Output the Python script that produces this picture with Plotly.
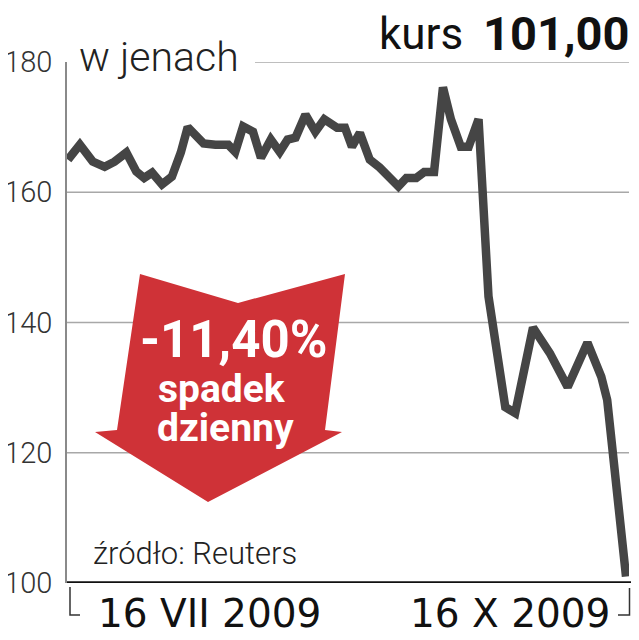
import plotly.graph_objects as go

# ---- data ----
# day offset from 16 VII 2009
days = [0.0, 1.96, 4.08, 6.04, 7.67, 9.62, 11.26, 12.56, 13.87, 15.50, 17.13, 18.60,
        19.74, 21.04, 22.35, 24.30, 26.43, 27.57, 28.87, 30.50, 31.81, 33.44, 34.91,
        36.21, 37.52, 39.15, 40.78, 42.25, 44.37, 45.67, 46.82, 48.12, 49.75, 51.38,
        52.85, 54.48, 55.79, 57.42, 58.72, 60.35, 61.82, 63.13, 64.76, 66.06, 67.69,
        69.33, 72.10, 73.73, 76.67, 79.44, 82.38, 85.64, 87.92, 88.90, 92.0]
prices = [165.0, 167.3, 164.7, 163.9, 164.7, 166.1, 163.2, 162.2, 163.0, 161.2, 162.4,
          166.1, 170.0, 168.8, 167.5, 167.3, 167.3, 166.2, 170.1, 169.3, 165.3, 168.1,
          166.2, 168.1, 168.4, 171.9, 169.3, 171.2, 169.9, 169.9, 167.0, 169.1, 165.0,
          163.8, 162.2, 160.9, 162.2, 162.2, 163.1, 163.1, 176.1, 171.2, 167.0, 167.0,
          171.2, 144.0, 127.0, 126.1, 139.2, 135.3, 130.1, 136.9, 131.7, 128.1, 101.0]
y_ticks = [100, 120, 140, 160, 180]
grid_vals = [120, 140, 160, 180]
x_labels = ["16 VII 2009", "16 X 2009"]
last_price = "101,00"
change = "-11,40%"

# the page body has an 8px margin; keep the figure inside the visible area
OFF = 8
W, H = 631 - OFF, 640 - 2 * OFF
X0, X1, Y0, Y1 = 67, 629, 62, 583  # plot area in page pixels
L, T = X0 - OFF, Y0 - OFF
R, B = (OFF + W) - X1, (OFF + H) - Y1
PW, PH = X1 - X0, Y1 - Y0


def px(x):
    return (x - X0) / PW


def py(y):
    return (Y1 - y) / PH


fig = go.Figure()
fig.add_trace(go.Scatter(x=days, y=prices, mode="lines",
                         line=dict(color="#454545", width=8.5),
                         hoverinfo="skip", showlegend=False))

shapes = []
# gridlines
for v in grid_vals:
    shapes.append(dict(type="line", xref="paper", yref="y",
                       x0=px(255) if v == 180 else 0, x1=1, y0=v, y1=v,
                       line=dict(color="#a8a8a8", width=1.5), layer="below"))
# bottom axis line
shapes.append(dict(type="line", xref="paper", yref="y", x0=0, x1=px(631),
                   y0=100, y1=100, line=dict(color="#111111", width=3.5), layer="above"))
# brackets
shapes.append(dict(type="path", xref="paper", yref="paper",
                   path=f"M{px(70)},{py(587)} L{px(70)},{py(615)} L{px(80)},{py(615)}",
                   line=dict(color="#333333", width=1.5)))
shapes.append(dict(type="path", xref="paper", yref="paper",
                   path=f"M{px(629.5)},{py(588)} L{px(629.5)},{py(615)} L{px(618)},{py(615)}",
                   line=dict(color="#333333", width=1.5)))
# red arrow
pts = [(140, 274), (238, 303), (345, 274), (325, 430), (342, 432), (208, 502),
       (95, 432), (117, 430)]
path = "M" + " L".join(f"{px(a)},{py(b)}" for a, b in pts) + " Z"
shapes.append(dict(type="path", xref="paper", yref="paper", path=path,
                   fillcolor="#cf3237", line=dict(width=0), layer="above"))

ann = []
ann.append(dict(text="w jenach", xref="paper", yref="paper", x=px(77), y=py(57),
                xanchor="left", yanchor="middle", showarrow=False,
                font=dict(family="Roboto", size=41, color="#222222", weight=300)))
ann.append(dict(text="kurs", xref="paper", yref="paper", x=px(465), y=py(34),
                xanchor="right", yanchor="middle", showarrow=False,
                font=dict(family="Roboto", size=44, color="#111111", weight=400)))
ann.append(dict(text=f"<b>{last_price}</b>", xref="paper", yref="paper", x=px(631), y=py(33),
                xanchor="right", yanchor="middle", showarrow=False,
                font=dict(family="Roboto", size=47, color="#111111")))
ann.append(dict(text=f"<b>{change}</b>", xref="paper", yref="paper", x=px(233), y=py(340),
                xanchor="center", yanchor="middle", showarrow=False,
                font=dict(family="Roboto", size=51, color="white")))
ann.append(dict(text="<b>spadek</b>", xref="paper", yref="paper", x=px(222), y=py(389),
                xanchor="center", yanchor="middle", showarrow=False,
                font=dict(family="Roboto", size=39, color="white")))
ann.append(dict(text="<b>dzienny</b>", xref="paper", yref="paper", x=px(225), y=py(428),
                xanchor="center", yanchor="middle", showarrow=False,
                font=dict(family="Roboto", size=39, color="white")))
ann.append(dict(text="źródło: Reuters", xref="paper", yref="paper", x=px(91), y=py(553),
                xanchor="left", yanchor="middle", showarrow=False,
                font=dict(family="Roboto", size=31, color="#222222", weight=300)))
ann.append(dict(text=x_labels[0], xref="paper", yref="paper", x=px(96), y=py(613),
                xanchor="left", yanchor="middle", showarrow=False,
                font=dict(family="DejaVu Sans", size=39, color="#111111")))
ann.append(dict(text=x_labels[1], xref="paper", yref="paper", x=px(612), y=py(613),
                xanchor="right", yanchor="middle", showarrow=False,
                font=dict(family="DejaVu Sans", size=39, color="#111111")))

# day 0 sits 1px right of the axis, last day 3px inside the plot's right edge
ppd = (X1 - 3 - (X0 + 1)) / (days[-1] - days[0])
fig.update_layout(
    width=W, height=H,
    margin=dict(l=L, r=R, t=T, b=B, pad=0, autoexpand=False),
    paper_bgcolor="white", plot_bgcolor="white",
    shapes=shapes, annotations=ann, showlegend=False,
    xaxis=dict(range=[days[0] - 1 / ppd, days[-1] + 3 / ppd], visible=False,
               fixedrange=True, automargin=False),
    yaxis=dict(range=[100, 180], tickvals=y_ticks, ticktext=[str(v) for v in y_ticks],
               showgrid=False, zeroline=False, showline=True, linecolor="#8a8a8a",
               linewidth=1.5, ticks="", ticklabelstandoff=7, automargin=False,
               tickfont=dict(family="Roboto", size=29, color="#333333", weight=300)),
)
fig.write_html("out.html")
